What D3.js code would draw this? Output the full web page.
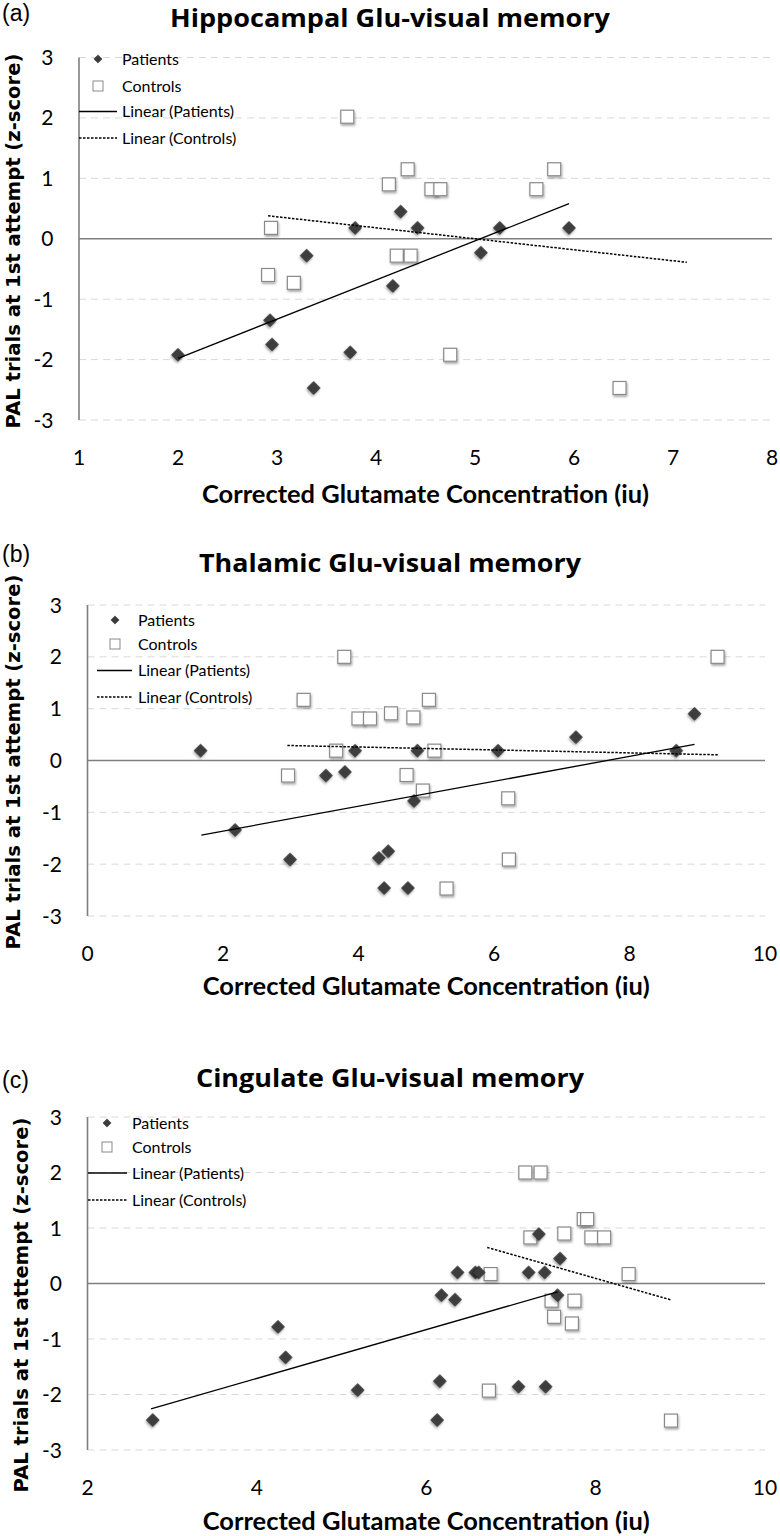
<!DOCTYPE html>
<html><head><meta charset="utf-8">
<script src="https://cdn.jsdelivr.net/npm/d3@7"></script>
<style>body{margin:0;background:#fff}svg{display:block}</style>
</head><body>
<svg id="chart" width="780" height="1536"></svg>
<script>
// ---------- data ----------
const yTicks = [-3, -2, -1, 0, 1, 2, 3];
const xTicksA = [1, 2, 3, 4, 5, 6, 7, 8];
const xTicksB = [0, 2, 4, 6, 8, 10];
const xTicksC = [2, 4, 6, 8, 10];

const titles = ["Hippocampal Glu-visual memory", "Thalamic Glu-visual memory", "Cingulate Glu-visual memory"];
const panelLabels = ["(a)", "(b)", "(c)"];
const xAxisTitle = "Corrected Glutamate Concentration (iu)";
const yAxisTitle = "PAL trials at 1st attempt (z-score)";
const legendLabels = ["Patients", "Controls", "Linear (Patients)", "Linear (Controls)"];

const patientsA = [[2.0,-1.92],[2.93,-1.35],[2.95,-1.75],[3.30,-0.28],[3.37,-2.47],[3.74,-1.88],[3.79,0.18],
  [4.17,-0.78],[4.25,0.45],[4.42,0.18],[5.06,-0.23],[5.25,0.18],[5.95,0.18]];
const controlsA = [[3.71,2.02],[4.13,0.90],[4.32,1.15],[4.56,0.82],[4.65,0.82],[5.62,0.82],[5.80,1.15],
  [2.94,0.18],[4.21,-0.28],[4.35,-0.28],[2.91,-0.60],[3.17,-0.73],[4.75,-1.92],[6.46,-2.47]];
const trendPatientsA = [[2.0,-1.98],[5.95,0.58]];
const trendControlsA = [[2.91,0.38],[7.14,-0.39]];

const patientsB = [[1.67,0.19],[2.18,-1.34],[2.99,-1.91],[3.52,-0.29],[3.80,-0.22],[3.95,0.19],[4.30,-1.88],
  [4.38,-2.46],[4.44,-1.75],[4.73,-2.46],[4.82,-0.78],[4.87,0.19],[6.06,0.19],[7.21,0.45],[8.69,0.19],[8.96,0.90]];
const controlsB = [[2.96,-0.29],[3.19,1.17],[3.67,0.19],[3.79,2.0],[4.0,0.81],[4.17,0.81],[4.48,0.91],[4.71,-0.28],
  [4.81,0.83],[4.95,-0.58],[5.04,1.17],[5.12,0.19],[5.30,-2.47],[6.21,-0.73],[6.22,-1.91],[9.30,2.0]];
const trendPatientsB = [[1.68,-1.44],[8.96,0.31]];
const trendControlsB = [[2.95,0.29],[9.31,0.11]];

const patientsC = [[2.77,-2.46],[4.25,-0.78],[4.34,-1.33],[5.19,-1.92],[6.13,-2.46],[6.16,-1.76],[6.18,-0.21],
  [6.34,-0.29],[6.37,0.20],[6.58,0.20],[6.62,0.20],[7.09,-1.86],[7.21,0.20],[7.33,0.89],[7.40,0.20],[7.41,-1.86],
  [7.55,-0.21],[7.58,0.45]];
const controlsC = [[6.74,-1.93],[6.76,0.17],[7.17,2.0],[7.23,0.83],[7.35,2.0],[7.48,-0.31],[7.51,-0.60],[7.63,0.90],
  [7.72,-0.72],[7.75,-0.31],[7.86,1.16],[7.90,1.16],[7.95,0.83],[8.10,0.83],[8.39,0.17],[8.89,-2.47]];
const trendPatientsC = [[2.75,-2.26],[7.55,-0.15]];
const trendControlsC = [[6.72,0.65],[8.90,-0.30]];

// ---------- layout ----------
const panels = [
  {i:0, patients:patientsA, controls:controlsA, tP:trendPatientsA, tC:trendControlsA, xDomain:[1,8], xTicks:xTicksA,
   left:79, right:772, top:57.5, bottom:420, titleY:27, titleW:440, xTitleY:503, yTitleX:13, yTitleY:241, labelY:21,
   leg:{rows:[59,86,111.5,138], mx:98, tx:122, lx:[79,117]}},
  {i:1, patients:patientsB, controls:controlsB, tP:trendPatientsB, tC:trendControlsB, xDomain:[0,10], xTicks:xTicksB,
   left:87.5, right:765, top:605, bottom:916, titleY:572, titleW:382, xTitleY:995, yTitleX:13, yTitleY:762, labelY:562,
   leg:{rows:[620,644,670.5,697], mx:115, tx:138, lx:[97,132]}},
  {i:2, patients:patientsC, controls:controlsC, tP:trendPatientsC, tC:trendControlsC, xDomain:[2,10], xTicks:xTicksC,
   left:87.5, right:765, top:1117, bottom:1450, titleY:1087, titleW:388, xTitleY:1530, yTitleX:21, yTitleY:1305, labelY:1088,
   leg:{rows:[1123,1147,1173,1200], mx:107, tx:132, lx:[88,127]}}
];

const svg = d3.select("#chart");
const defs = svg.append("defs");
const f = defs.append("filter").attr("id","shadow").attr("x","-50%").attr("y","-50%").attr("width","200%").attr("height","200%");
f.append("feDropShadow").attr("dx",0.8).attr("dy",1.8).attr("stdDeviation",0.9).attr("flood-color","#000").attr("flood-opacity",0.35);

function fitText(sel, target) {
  const fs = parseFloat(sel.attr("font-size"));
  const w = sel.node().getComputedTextLength();
  sel.attr("font-size", (fs * target / w).toFixed(2));
}

// diamond = square rotated by 45 degrees
const sq = d3.symbol().type(d3.symbolSquare);

panels.forEach(p => {
  const g = svg.append("g");
  const x = d3.scaleLinear().domain(p.xDomain).range([p.left, p.right]);
  const y = d3.scaleLinear().domain([-3, 3]).range([p.bottom, p.top]);

  // panel label
  g.append("text").attr("x", 2).attr("y", p.labelY).attr("font-family", "Liberation Sans, Arial, sans-serif")
    .attr("font-size", 23).attr("fill", "#000").text(panelLabels[p.i]);

  // title
  g.append("text").attr("x", 390).attr("y", p.titleY).attr("text-anchor", "middle")
    .attr("font-family", "Open Sans, sans-serif").attr("font-weight", 700).attr("font-size", 25).attr("fill", "#000")
    .attr("textLength", p.titleW).attr("lengthAdjust", "spacingAndGlyphs")
    .text(titles[p.i]);

  // gridlines
  g.append("g").selectAll("line").data(yTicks.filter(v => v !== 0)).join("line")
    .attr("x1", p.left).attr("x2", p.right).attr("y1", d => y(d)).attr("y2", d => y(d))
    .attr("stroke", "#d9d9d9").attr("stroke-width", 1).attr("stroke-dasharray", "7,5");
  // zero line
  g.append("line").attr("x1", p.left).attr("x2", p.right).attr("y1", y(0)).attr("y2", y(0))
    .attr("stroke", "#7f7f7f").attr("stroke-width", 1.6);
  // y axis line
  g.append("line").attr("x1", p.left).attr("x2", p.left).attr("y1", y(3)).attr("y2", y(-3))
    .attr("stroke", "#7f7f7f").attr("stroke-width", 1.6);

  // y tick labels
  g.append("g").selectAll("text").data(yTicks).join("text")
    .attr("x", p.left - 25.5).attr("y", d => y(d)).attr("dy", "0.36em").attr("text-anchor", "end")
    .attr("font-family", "Lato, sans-serif").attr("font-size", 21).attr("fill", "#000").text(d => d);
  // x tick labels
  g.append("g").selectAll("text").data(p.xTicks).join("text")
    .attr("x", d => x(d)).attr("y", p.bottom + 45).attr("text-anchor", "middle")
    .attr("font-family", "Lato, sans-serif").attr("font-size", 21).attr("fill", "#000").text(d => d);

  // axis titles
  g.append("text").attr("x", (p.left + p.right) / 2).attr("y", p.xTitleY).attr("text-anchor", "middle")
    .attr("font-family", "Lato, sans-serif").attr("font-weight", 700).attr("font-size", 25).attr("fill", "#000")
    .attr("textLength", 447).attr("lengthAdjust", "spacingAndGlyphs")
    .text(xAxisTitle);
  const yt = g.append("text").attr("transform", `translate(${p.yTitleX},${p.yTitleY}) rotate(-90)`)
    .attr("text-anchor", "middle").attr("dy", "0.36em")
    .attr("font-family", "DejaVu Sans, sans-serif").attr("font-weight", 700).attr("font-size", 16).attr("fill", "#000")
    .text(yAxisTitle);
  fitText(yt, 375);

  // controls (squares)
  g.append("g").selectAll("rect").data(p.controls).join("rect")
    .attr("x", d => x(d[0]) - 6.5).attr("y", d => y(d[1]) - 6.5).attr("width", 13).attr("height", 13)
    .attr("fill", "#fff").attr("stroke", "#8a8a8a").attr("stroke-width", 1.2).attr("filter", "url(#shadow)");
  // patients (diamonds)
  g.append("g").selectAll("path").data(p.patients).join("path")
    .attr("d", sq.size(82))
    .attr("transform", d => `translate(${x(d[0])},${y(d[1])}) rotate(45)`)
    .attr("fill", "#3c3c3c").attr("stroke", "#222").attr("stroke-width", 0.6).attr("filter", "url(#shadow)");

  // trend lines
  const line = d3.line().x(d => x(d[0])).y(d => y(d[1]));
  g.append("path").attr("d", line(p.tP)).attr("fill", "none").attr("stroke", "#000").attr("stroke-width", 1.3);
  g.append("path").attr("d", line(p.tC)).attr("fill", "none").attr("stroke", "#000").attr("stroke-width", 1.5)
    .attr("stroke-dasharray", "2.5,1.5");

  // legend
  const L = p.leg;
  const lg = g.append("g");
  lg.append("path").attr("d", d3.symbol().type(d3.symbolSquare).size(34)())
    .attr("transform", `translate(${L.mx},${L.rows[0]}) rotate(45)`).attr("fill", "#3c3c3c").attr("stroke", "#222").attr("stroke-width", 0.5);
  lg.append("rect").attr("x", L.mx - 5).attr("y", L.rows[1] - 5).attr("width", 10).attr("height", 10)
    .attr("fill", "#fff").attr("stroke", "#8a8a8a").attr("stroke-width", 1);
  lg.append("line").attr("x1", L.lx[0]).attr("x2", L.lx[1]).attr("y1", L.rows[2]).attr("y2", L.rows[2])
    .attr("stroke", "#000").attr("stroke-width", 1.3);
  lg.append("line").attr("x1", L.lx[0]).attr("x2", L.lx[1]).attr("y1", L.rows[3]).attr("y2", L.rows[3])
    .attr("stroke", "#000").attr("stroke-width", 1.5).attr("stroke-dasharray", "2.5,1.5");
  lg.selectAll("text").data(legendLabels).join("text")
    .attr("x", L.tx).attr("y", (d, k) => L.rows[k]).attr("dy", "0.36em")
    .attr("font-family", "Lato, sans-serif").attr("font-size", 16).attr("fill", "#000").text(d => d);
});
</script>
</body></html>
